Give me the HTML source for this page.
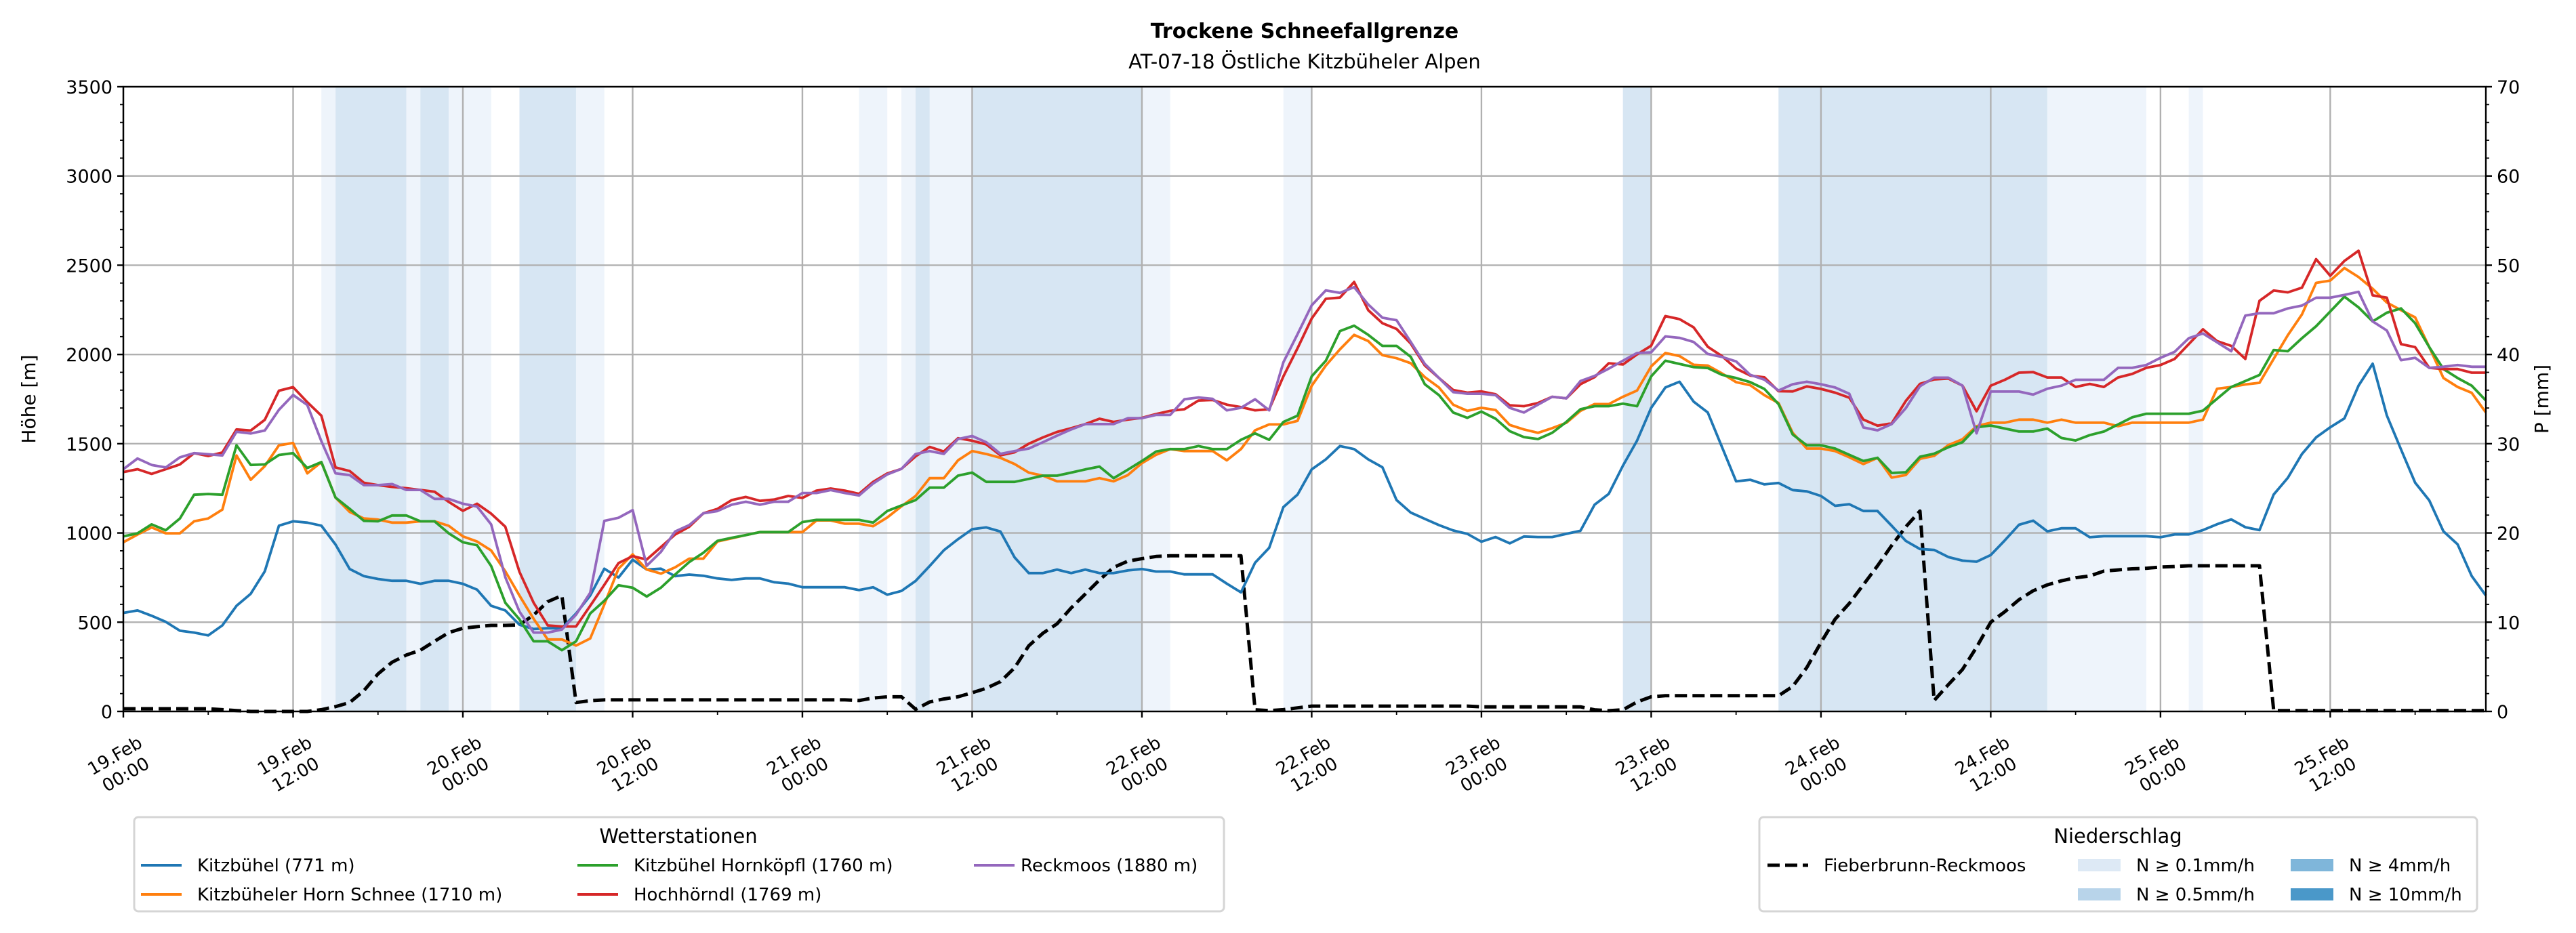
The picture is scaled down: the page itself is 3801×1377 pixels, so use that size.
<!DOCTYPE html>
<html><head><meta charset="utf-8"><style>
html,body{margin:0;padding:0;background:#fff;}
svg{display:block;font-family:"DejaVu Sans","Liberation Sans",sans-serif;}
</style></head><body>
<svg id="chart" width="3801" height="1377" viewBox="0 0 3801 1377" xmlns="http://www.w3.org/2000/svg">
<rect width="3801" height="1377" fill="#fff"/>
<text x="1925" y="56" text-anchor="middle" font-size="30" font-weight="bold">Trockene Schneefallgrenze</text>
<text x="1925" y="101" text-anchor="middle" font-size="29">AT-07-18 Östliche Kitzbüheler Alpen</text>
<g id="bands"></g>
<g id="grid"></g>
<g id="series"></g>
<g id="axes"></g>
<text transform="translate(52,589) rotate(-90)" text-anchor="middle" font-size="28">Höhe [m]</text>
<text transform="translate(3760,589) rotate(-90)" text-anchor="middle" font-size="28">P [mm]</text>
<g>
<rect x="198" y="1206" width="1608" height="139" rx="6" fill="#fff" stroke="#d5d5d5" stroke-width="3"/>
<text x="1001" y="1244" text-anchor="middle" font-size="29">Wetterstationen</text>
<g><line x1="208" y1="1277" x2="268" y2="1277" stroke="#1f77b4" stroke-width="4"/><text x="291" y="1286" font-size="26">Kitzbühel (771 m)</text></g>
<g><line x1="208" y1="1320" x2="268" y2="1320" stroke="#ff7f0e" stroke-width="4"/><text x="291" y="1329" font-size="26">Kitzbüheler Horn Schnee (1710 m)</text></g>
<g><line x1="852" y1="1277" x2="912" y2="1277" stroke="#2ca02c" stroke-width="4"/><text x="935" y="1286" font-size="26">Kitzbühel Hornköpfl (1760 m)</text></g>
<g><line x1="852" y1="1320" x2="912" y2="1320" stroke="#d62728" stroke-width="4"/><text x="935" y="1329" font-size="26">Hochhörndl (1769 m)</text></g>
<g><line x1="1437" y1="1277" x2="1497" y2="1277" stroke="#9467bd" stroke-width="4"/><text x="1506" y="1286" font-size="26">Reckmoos (1880 m)</text></g>
</g>
<g>
<rect x="2596" y="1206" width="1059" height="139" rx="6" fill="#fff" stroke="#d5d5d5" stroke-width="3"/>
<text x="3125" y="1244" text-anchor="middle" font-size="29">Niederschlag</text>
<g><line x1="2608" y1="1277" x2="2668" y2="1277" stroke="#000" stroke-width="5" stroke-dasharray="18,8"/><text x="2691" y="1286" font-size="26">Fieberbrunn-Reckmoos</text></g>
<g><rect x="3066" y="1268" width="63" height="18" fill="#dde9f5"/><text x="3152" y="1286" font-size="26">N ≥ 0.1mm/h</text></g>
<g><rect x="3066" y="1311" width="63" height="18" fill="#b8d4ea"/><text x="3152" y="1329" font-size="26">N ≥ 0.5mm/h</text></g>
<g><rect x="3380" y="1268" width="63" height="18" fill="#7fb6da"/><text x="3466" y="1286" font-size="26">N ≥ 4mm/h</text></g>
<g><rect x="3380" y="1311" width="63" height="18" fill="#4a98c9"/><text x="3466" y="1329" font-size="26">N ≥ 10mm/h</text></g>
</g>
</svg>
<script>
const kitzbuehel=[552,566,536,502,452,442,426,482,592,659,785,1041,1065,1058,1041,935,798,758,742,732,732,715,732,732,715,682,592,566,486,462,466,466,549,649,800,750,850,795,800,758,767,760,745,737,745,745,724,716,696,696,696,696,680,696,654,675,731,815,903,965,1021,1031,1008,863,775,775,795,775,795,775,775,790,798,784,784,768,768,768,716,667,833,917,1145,1215,1356,1412,1487,1470,1412,1368,1184,1114,1079,1044,1014,995,951,977,942,980,977,977,995,1012,1158,1219,1377,1517,1701,1815,1847,1736,1675,1482,1289,1298,1272,1280,1240,1233,1207,1152,1161,1123,1123,1040,955,910,905,865,845,839,876,959,1046,1069,1009,1026,1026,976,982,982,982,982,976,992,992,1016,1049,1076,1032,1016,1215,1309,1442,1535,1592,1642,1825,1948,1658,1468,1282,1182,1009,936,759,649];
const hornSchnee=[948,991,1031,998,998,1065,1081,1131,1434,1298,1374,1491,1504,1334,1397,1198,1118,1081,1075,1058,1058,1065,1065,1040,981,952,902,785,649,519,403,403,369,409,599,800,880,795,772,807,856,856,952,970,988,1005,1005,1005,1005,1070,1070,1052,1052,1038,1087,1149,1207,1307,1307,1407,1459,1442,1421,1386,1338,1321,1289,1289,1289,1307,1289,1324,1391,1438,1470,1459,1459,1459,1407,1470,1575,1608,1608,1628,1824,1938,2029,2110,2075,1996,1979,1951,1873,1815,1719,1684,1701,1689,1605,1580,1561,1587,1617,1684,1722,1722,1763,1798,1933,2008,1991,1942,1938,1894,1845,1828,1772,1728,1561,1473,1473,1459,1424,1386,1421,1310,1325,1415,1432,1492,1525,1598,1618,1618,1635,1635,1618,1635,1618,1618,1618,1598,1618,1618,1618,1618,1618,1635,1808,1818,1832,1841,1975,2108,2224,2401,2414,2484,2434,2368,2291,2248,2208,2041,1868,1818,1785,1675];
const hornkoepfl=[981,998,1048,1015,1081,1214,1218,1214,1491,1381,1384,1437,1447,1364,1397,1198,1135,1068,1065,1098,1098,1065,1065,998,948,931,815,609,516,393,393,343,393,549,620,707,693,644,693,767,837,889,956,973,988,1005,1005,1005,1061,1073,1073,1073,1073,1058,1123,1154,1184,1254,1254,1321,1338,1286,1286,1286,1303,1321,1321,1338,1356,1372,1307,1354,1403,1456,1470,1470,1487,1470,1470,1522,1558,1522,1622,1657,1877,1965,2131,2161,2110,2048,2048,1987,1833,1772,1675,1645,1680,1640,1570,1537,1526,1561,1622,1693,1710,1710,1724,1710,1877,1965,1947,1929,1924,1886,1868,1845,1807,1722,1552,1491,1491,1473,1438,1403,1421,1336,1340,1427,1444,1480,1508,1592,1602,1585,1568,1568,1585,1532,1518,1548,1568,1608,1648,1668,1668,1668,1668,1685,1752,1818,1851,1885,2025,2018,2091,2158,2241,2324,2264,2185,2234,2258,2175,2041,1918,1868,1825,1742];
const hochhoerndl=[1341,1357,1331,1357,1384,1447,1431,1451,1580,1574,1634,1797,1817,1733,1657,1367,1347,1281,1268,1258,1251,1241,1231,1174,1124,1164,1108,1035,782,609,482,476,476,592,709,831,870,851,921,991,1035,1110,1135,1184,1202,1180,1187,1207,1196,1237,1249,1237,1219,1286,1333,1359,1429,1482,1456,1531,1517,1496,1435,1452,1500,1535,1566,1587,1610,1640,1622,1635,1645,1666,1684,1693,1742,1745,1719,1705,1687,1693,1877,2035,2201,2312,2319,2406,2248,2175,2143,2061,1938,1868,1801,1786,1793,1777,1715,1710,1728,1763,1754,1833,1873,1951,1944,2000,2049,2215,2198,2152,2043,1991,1921,1882,1872,1794,1793,1821,1807,1786,1758,1635,1601,1614,1740,1835,1860,1865,1825,1682,1825,1858,1898,1901,1871,1871,1818,1835,1818,1871,1891,1925,1941,1975,2058,2141,2075,2048,1975,2301,2358,2348,2374,2534,2441,2524,2581,2331,2318,2058,2041,1925,1918,1918,1898,1898];
const reckmoos=[1357,1417,1381,1367,1424,1447,1441,1434,1567,1557,1574,1690,1773,1717,1514,1334,1324,1268,1268,1274,1241,1241,1191,1191,1164,1148,1048,752,559,442,442,459,542,665,1068,1085,1128,816,894,1008,1044,1110,1123,1158,1175,1158,1175,1175,1224,1224,1240,1224,1210,1277,1328,1359,1442,1459,1443,1526,1543,1508,1443,1459,1473,1508,1545,1580,1610,1610,1610,1643,1643,1661,1661,1749,1759,1751,1687,1701,1749,1687,1956,2114,2275,2359,2345,2377,2280,2206,2192,2070,1947,1868,1789,1780,1780,1772,1701,1675,1719,1763,1754,1851,1880,1921,1965,2008,2012,2101,2093,2070,2003,1986,1961,1886,1859,1798,1833,1847,1833,1815,1780,1591,1575,1610,1700,1822,1870,1870,1825,1558,1792,1792,1792,1775,1808,1825,1858,1858,1858,1925,1925,1941,1981,2015,2091,2118,2068,2018,2218,2231,2231,2258,2274,2318,2318,2334,2351,2185,2134,1968,1981,1925,1931,1941,1931,1931];
const fieberbrunn=[15,15,15,15,15,15,15,10,5,0,0,0,0,0,10,27,50,116,210,276,316,343,393,442,466,475,482,482,485,540,615,649,50,60,65,65,65,65,65,65,65,65,65,65,65,65,65,65,65,65,65,65,61,75,82,82,12,53,70,82,105,130,167,245,368,438,491,580,658,737,807,842,856,868,872,872,872,872,872,872,9,5,10,20,30,30,30,30,30,30,30,30,30,30,30,30,26,26,26,26,26,26,26,26,9,4,9,53,82,88,88,88,88,88,88,88,88,88,140,246,386,517,605,710,816,930,1035,1123,61,150,235,360,500,559,626,676,709,732,749,759,786,793,799,802,809,812,816,816,816,816,816,816,5,5,5,5,5,5,5,5,5,5,5,5,5,5,5,5];
const bandStart=[14,15,20,21,23,28,32,52,55,56,57,60,72,82,106,117,136,146];
const bandEnd=[15,20,21,23,26,32,34,54,56,57,60,72,74,84,108,136,143,147];
const bandLevel=[1,2,1,2,1,2,1,1,1,2,1,2,1,1,2,2,1,1];
const yTicks=[0,500,1000,1500,2000,2500,3000,3500];
const y2Ticks=[0,10,20,30,40,50,60,70];
const xTickHours=[0,12,24,36,48,60,72,84,96,108,120,132,144,156];
const xTickDay=["19.Feb","19.Feb","20.Feb","20.Feb","21.Feb","21.Feb","22.Feb","22.Feb","23.Feb","23.Feb","24.Feb","24.Feb","25.Feb","25.Feb"];
const xTickTime=["00:00","12:00","00:00","12:00","00:00","12:00","00:00","12:00","00:00","12:00","00:00","12:00","00:00","12:00"];

const L=182,R=3668,T=128,B=1050,HMAX=167,VMAX=3500;
const xs=h=>L+h*(R-L)/HMAX;
const ys=v=>B-v*(B-T)/VMAX;
const NS="http://www.w3.org/2000/svg";
function mk(tag,parent,attrs){const e=document.createElementNS(NS,tag);for(const k in attrs)e.setAttribute(k,attrs[k]);parent.appendChild(e);return e;}

const gB=document.getElementById('bands');
bandStart.forEach((s,i)=>{
  const r=mk('rect',gB,{x:xs(s),y:T,width:xs(bandEnd[i])-xs(s),height:B-T,fill:bandLevel[i]===2?'#d7e6f3':'#eef4fb'});
  
  
});
const gG=document.getElementById('grid');
yTicks.forEach(v=>{const l=mk('line',gG,{x1:L,x2:R,y1:ys(v),y2:ys(v),stroke:'#b0b0b0','stroke-width':2.4});
  
  });
xTickHours.forEach(h=>{const l=mk('line',gG,{x1:xs(h),x2:xs(h),y1:T,y2:B,stroke:'#b0b0b0','stroke-width':2.4});
  
  });

const gS=document.getElementById('series');
function line(arr,color,name,dash){
  const d=arr.map((v,i)=>(i?'L':'M')+xs(i).toFixed(1)+','+ys(v).toFixed(1)).join('');
  const p=mk('path',gS,{d:d,fill:'none',stroke:color,'stroke-width':dash?5:3.8,'stroke-linejoin':'round'});
  if(dash)p.setAttribute('stroke-dasharray','18,8');
  
  
}
line(fieberbrunn,'#000','line-fieberbrunn-reckmoos',true);
line(kitzbuehel,'#1f77b4','line-kitzbuehel');
line(hornSchnee,'#ff7f0e','line-kitzbueheler-horn-schnee');
line(hornkoepfl,'#2ca02c','line-kitzbuehel-hornkoepfl');
line(hochhoerndl,'#d62728','line-hochhoerndl');
line(reckmoos,'#9467bd','line-reckmoos');

const gA=document.getElementById('axes');
mk('rect',gA,{x:L,y:T,width:R-L,height:B-T,fill:'none',stroke:'#000','stroke-width':2.4});
for(let v=0;v<=VMAX;v+=100){const maj=v%500===0;const len=maj?9:5;
  mk('line',gA,{x1:L-len,x2:L,y1:ys(v),y2:ys(v),stroke:'#000','stroke-width':maj?2.4:1.8});
  mk('line',gA,{x1:R,x2:R+len,y1:ys(v),y2:ys(v),stroke:'#000','stroke-width':maj?2.4:1.8});}
yTicks.forEach(v=>{const t=mk('text',gA,{x:L-16,y:ys(v)+10,'text-anchor':'end','font-size':27});t.textContent=v;
  
  });
y2Ticks.forEach(v=>{const t=mk('text',gA,{x:R+16,y:ys(v*50)+10,'font-size':27});t.textContent=v;
  
  });
for(let h=0;h<=HMAX;h+=6){const maj=h%12===0;
  mk('line',gA,{x1:xs(h),x2:xs(h),y1:B,y2:B+(maj?9:5),stroke:'#000','stroke-width':maj?2.4:1.8});}
xTickHours.forEach((h,i)=>{
  const g=mk('g',gA,{transform:'translate('+(xs(h)-4)+',1130) rotate(-30)'});
  
  
  const t1=mk('text',g,{x:0,y:-8,'text-anchor':'middle','font-size':26});t1.textContent=xTickDay[i];
  const t2=mk('text',g,{x:0,y:24,'text-anchor':'middle','font-size':26});t2.textContent=xTickTime[i];
});
</script>
</body></html>
